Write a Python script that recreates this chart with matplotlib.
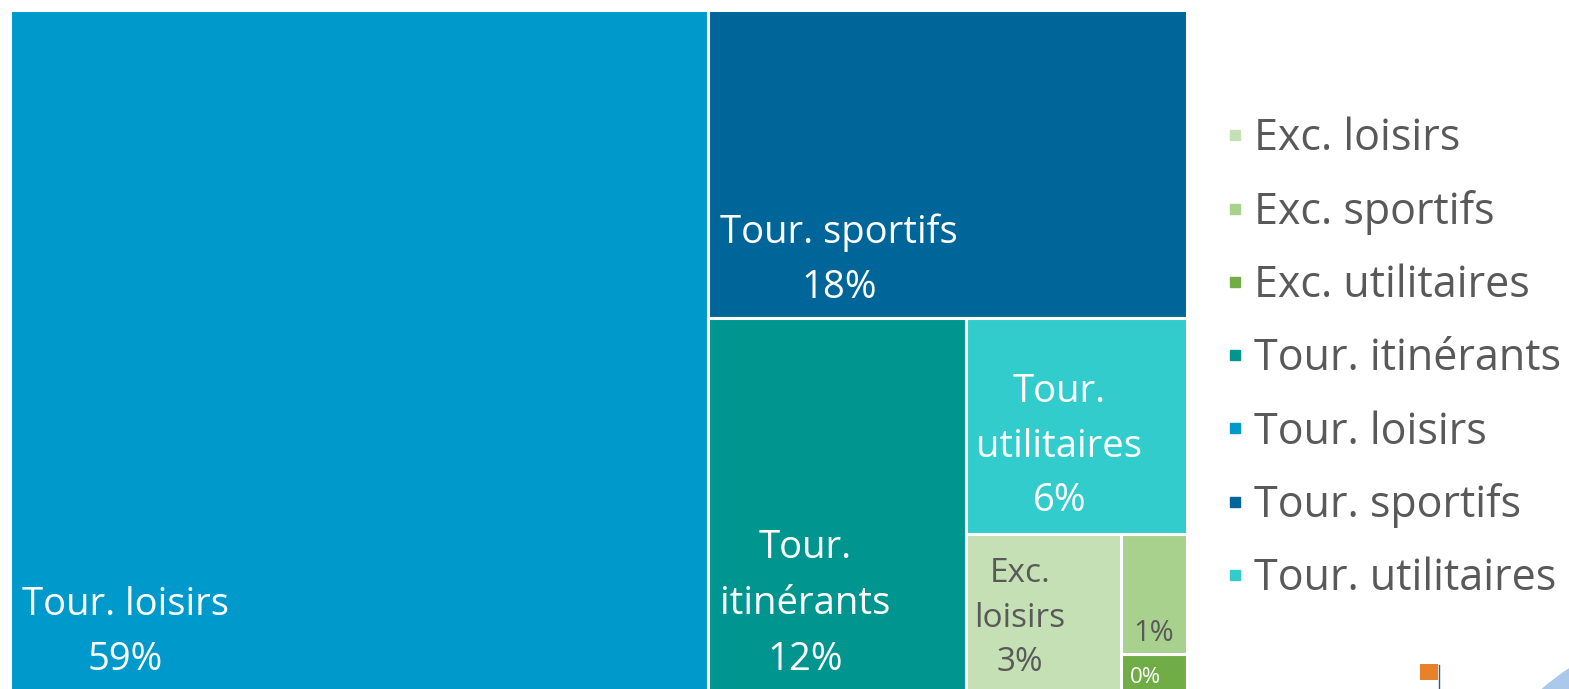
import matplotlib.pyplot as plt
from matplotlib.patches import Rectangle, Ellipse
from matplotlib.lines import Line2D

plt.rcParams['font.family'] = ['Open Sans', 'DejaVu Sans']

# share of each category (%)
categories = ['Tour. loisirs', 'Tour. sportifs', 'Tour. itinérants', 'Tour. utilitaires',
              'Exc. loisirs', 'Exc. sportifs', 'Exc. utilitaires']
shares = [59.3, 17.9, 12.3, 5.8, 3.3, 0.95, 0.45]
colors = ['#0099cc', '#006699', '#00968f', '#33cccc', '#c5e0b4', '#a9d18e', '#70ad47']
label_texts = ['Tour. loisirs', 'Tour. sportifs', 'Tour.\nitinérants', 'Tour.\nutilitaires',
               'Exc.\nloisirs', '', '']
text_colors = ['white', 'white', 'white', 'white', '#595959', '#595959', 'white']
label_sizes = [27.5, 27.5, 27.5, 27.5, 24, 21, 16]
label_spacing = [1.6, 1.58, 1.62, 1.58, 1.45, 1.2, 1.2]
label_dx = [12, 12, 12, 10, 8, 12, 9]
label_pad = [31, 11, 31, 14, 31, 6, 22]
legend_order = sorted(categories)


def worst(row, side):
    s = sum(row)
    return max(max(side * side * r / (s * s), s * s / (side * side * r)) for r in row)


def squarify(areas, x, y, w, h):
    rects = []
    areas = list(areas)
    while areas:
        side = min(w, h)
        row = [areas[0]]
        i = 1
        while i < len(areas) and worst(row + [areas[i]], side) <= worst(row, side):
            row.append(areas[i])
            i += 1
        s = sum(row)
        if w >= h:
            sw = s / h
            yy = y
            for a in row:
                rects.append((x, yy, sw, a / sw))
                yy += a / sw
            x += sw
            w -= sw
        else:
            sh = s / w
            xx = x
            for a in row:
                rects.append((xx, y, a / sh, sh))
                xx += a / sh
            y += sh
            h -= sh
        areas = areas[i:]
    return rects


W, H = 1177, 700
total = sum(shares)
areas = [v / total * W * H for v in shares]
rects = squarify(areas, 0, 0, W, H)

fig = plt.figure(figsize=(15.69, 6.89), dpi=100)
ax = fig.add_axes([10 / 1569, 1 - 710 / 689, W / 1569, H / 689])
ax.set_xlim(0, W)
ax.set_ylim(H, 0)
ax.axis('off')

for i, (x, y, w, h) in enumerate(rects):
    ax.add_patch(Rectangle((x, y), w, h, facecolor=colors[i], edgecolor='white', linewidth=2.2))
    txt = label_texts[i]
    pct = f'{round(shares[i]):d}%'
    txt = f'{txt}\n{pct}' if txt else pct
    ax.text(x + label_dx[i], y + h - label_pad[i], txt, color=text_colors[i],
            fontsize=label_sizes[i], ha='left', va='bottom', multialignment='center',
            linespacing=label_spacing[i])

handles = [Line2D([], [], marker='s', linestyle='none', markersize=7,
                  color=colors[categories.index(c)]) for c in legend_order]
leg = fig.legend(handles, legend_order, loc='upper left', bbox_to_anchor=(1226 / 1569, 1 - 117 / 689),
                 frameon=False, fontsize=31, labelspacing=0.665, handlelength=0.4,
                 handletextpad=0.25, borderaxespad=0, borderpad=0)
for t in leg.get_texts():
    t.set_color('#595959')

# small logo marks in the corner
fig.add_artist(Rectangle((1420 / 1569, 1 - 680 / 689), 18 / 1569, 16 / 689,
                         transform=fig.transFigure, facecolor='#e8822a', edgecolor='none'))
fig.add_artist(Line2D([1439 / 1569, 1439 / 1569], [0, 1 - 665 / 689],
                      transform=fig.transFigure, color='#1f5f9f', linewidth=1))
fig.add_artist(Ellipse((1600 / 1569, 1 - 690 / 689), 105 / 1569, 150 / 689, angle=-30,
                       transform=fig.transFigure, facecolor='#a9c8ea', edgecolor='none'))
fig.add_artist(Ellipse((1605 / 1569, 1 - 722 / 689), 120 / 1569, 84 / 689, angle=-10,
                       transform=fig.transFigure, facecolor='#1478c8', edgecolor='none'))

fig.savefig('out.png', dpi=100)
